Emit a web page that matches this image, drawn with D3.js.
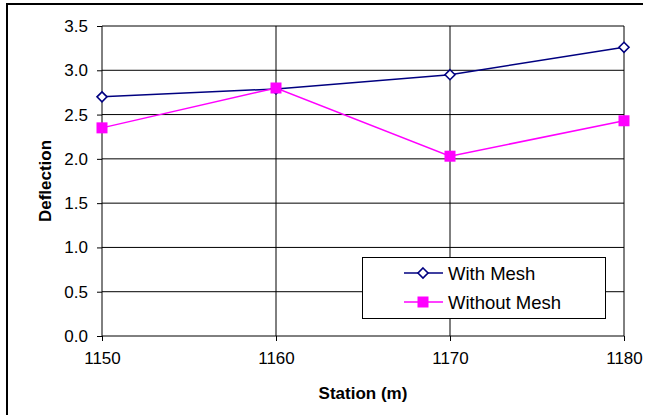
<!DOCTYPE html>
<html><head><meta charset="utf-8">
<script src="https://cdn.jsdelivr.net/npm/d3@7"></script>
<style>body{margin:0;background:#fff;}svg{display:block;font-family:"Liberation Sans",Arial,sans-serif;}</style>
</head><body>
<svg id="c" width="648" height="415"></svg>
<script>
const stations = [1150, 1160, 1170, 1180];
const withMesh = [2.70, 2.79, 2.95, 3.26];
const withoutMesh = [2.35, 2.80, 2.03, 2.43];
const xTicks = [1150, 1160, 1170, 1180];
const yTicks = [0, 0.5, 1.0, 1.5, 2.0, 2.5, 3.0, 3.5];
const seriesNames = ["With Mesh", "Without Mesh"];

const svg = d3.select("#c");
const L = 102, R = 624, T = 26, B = 336;
const x = d3.scaleLinear().domain([1150, 1180]).range([L, R]);
const y = d3.scaleLinear().domain([0, 3.5]).range([B, T]);

// outer border (left & top)
svg.append("path").attr("d", "M7,415 V4 H643").attr("fill", "none").attr("stroke", "#000").attr("stroke-width", 2);

// gridlines
svg.append("g").selectAll("line").data(yTicks.filter(d => d > 0)).join("line")
  .attr("x1", L).attr("x2", R).attr("y1", d => y(d)).attr("y2", d => y(d))
  .attr("stroke", "#000").attr("stroke-width", 1);
svg.append("g").selectAll("line").data(xTicks.filter(d => d > 1150)).join("line")
  .attr("y1", T).attr("y2", B).attr("x1", d => x(d)).attr("x2", d => x(d))
  .attr("stroke", "#000").attr("stroke-width", 1);

// axes
const yAxis = svg.append("g").attr("transform", `translate(${L},0)`)
  .call(d3.axisLeft(y).tickValues(yTicks).tickFormat(d3.format(".1f")).tickSize(5).tickPadding(9));
const xAxis = svg.append("g").attr("transform", `translate(0,${B})`)
  .call(d3.axisBottom(x).tickValues(xTicks).tickFormat(d3.format("d")).tickSize(5).tickPadding(11));
[yAxis, xAxis].forEach(a => {
  a.attr("font-size", null).attr("font-family", null);
  a.selectAll("path,line").attr("stroke", "#000");
  a.selectAll("text").style("font-size", "17px").attr("fill", "#000").style("font-family", "Liberation Sans, Arial, sans-serif");
});
yAxis.select(".domain").attr("d", `M0,${B}V${T}`);
xAxis.select(".domain").attr("d", `M${L},0H${R}`);

// axis titles
svg.append("text").attr("x", 363).attr("y", 399).attr("text-anchor", "middle")
  .style("font-size", "17px").attr("font-weight", "bold").text("Station (m)");
svg.append("text").attr("transform", `translate(51,${(T + B) / 2}) rotate(-90)`).attr("text-anchor", "middle")
  .style("font-size", "17px").attr("font-weight", "bold").text("Deflection");

const line = d3.line().x(d => x(d[0])).y(d => y(d[1]));
const dWith = stations.map((s, i) => [s, withMesh[i]]);
const dWithout = stations.map((s, i) => [s, withoutMesh[i]]);
const diamond = (cx, cy) => `M${cx},${cy - 5}L${cx + 5},${cy}L${cx},${cy + 5}L${cx - 5},${cy}Z`;

// series 1: With Mesh
svg.append("path").datum(dWith).attr("d", line).attr("fill", "none").attr("stroke", "#000080").attr("stroke-width", 1.5);
svg.append("g").selectAll("path").data(dWith).join("path")
  .attr("d", d => diamond(x(d[0]), y(d[1]))).attr("fill", "#fff").attr("stroke", "#000080").attr("stroke-width", 1.6);

// series 2: Without Mesh
svg.append("path").datum(dWithout).attr("d", line).attr("fill", "none").attr("stroke", "#FF00FF").attr("stroke-width", 1.5);
svg.append("g").selectAll("rect").data(dWithout).join("rect")
  .attr("x", d => x(d[0]) - 5.5).attr("y", d => y(d[1]) - 5.5).attr("width", 11).attr("height", 11)
  .attr("fill", "#FF00FF");

// legend
const lg = svg.append("g");
lg.append("rect").attr("x", 362.5).attr("y", 257.5).attr("width", 243).attr("height", 61)
  .attr("fill", "#fff").attr("stroke", "#000").attr("stroke-width", 1);
const rows = [273, 302];
seriesNames.forEach((n, i) => {
  const cy = rows[i];
  lg.append("line").attr("x1", 404).attr("x2", 443).attr("y1", cy).attr("y2", cy)
    .attr("stroke", i === 0 ? "#000080" : "#FF00FF").attr("stroke-width", 1.5);
  if (i === 0) lg.append("path").attr("d", diamond(423, cy)).attr("fill", "#fff").attr("stroke", "#000080").attr("stroke-width", 1.6);
  else lg.append("rect").attr("x", 423 - 5.5).attr("y", cy - 5.5).attr("width", 11).attr("height", 11).attr("fill", "#FF00FF");
  lg.append("text").attr("x", 448).attr("y", cy + 6.5).style("font-size", "18.5px").attr("fill", "#000").text(n);
});
</script>
</body></html>
